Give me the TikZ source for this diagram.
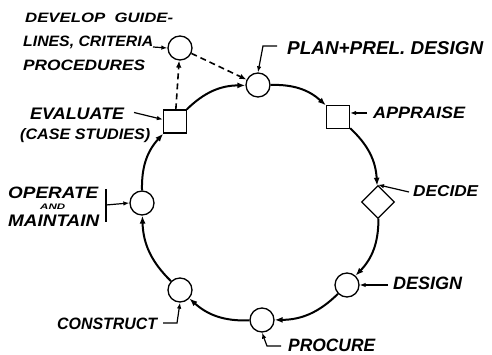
\documentclass[tikz,border=0pt]{standalone}
\usepackage{fontspec}
\usepackage{graphicx}
\newfontfamily\hand{Liberation Sans}
\usetikzlibrary{arrows.meta}
\newcommand\myfit[3]{\resizebox{#1pt}{#2pt}{\hand\bfseries\itshape #3}}
\begin{document}
\begin{tikzpicture}[x=1pt,y=1pt,
  circ/.style={draw,circle,line width=1.3pt,minimum size=24pt,inner sep=0pt},
  sq/.style={draw,rectangle,line width=1.3pt,minimum size=23pt,inner sep=0pt},
  dia/.style={draw,rectangle,line width=1.3pt,minimum size=23pt,inner sep=0pt,rotate=45},
  flow/.style={line width=2pt,-{Latex[length=8pt,width=6pt]},bend left=22},
  dsh/.style={line width=1.6pt,dash pattern=on 6pt off 4pt,-{Latex[length=7pt,width=5.5pt]}},
  lead/.style={line width=1.2pt,-{Latex[length=6pt,width=4.5pt]}},
  lbl/.style={anchor=base west,inner sep=0pt}]
\useasboundingbox (0,0) rectangle (492,355);
% nodes on the cycle
\node[circ] (plan) at (258,270) {};
\node[sq] (appraise) at (338,238) {};
\node[dia] (decide) at (378,153) {};
\node[circ] (design) at (347,70) {};
\node[circ] (procure) at (262,35) {};
\node[circ] (construct) at (180,65) {};
\node[circ] (operate) at (142,152) {};
\node[sq] (evaluate) at (175,233.5) {};
\node[circ] (develop) at (180,307) {};
% cycle connectors
\draw[flow] (plan) to (appraise);
\draw[flow] (appraise) to (decide);
\draw[flow] (decide) to (design);
\draw[flow] (design) to (procure);
\draw[flow] (procure) to (construct);
\draw[flow] (construct) to (operate);
\draw[flow] (operate) to (evaluate);
\draw[flow] (evaluate) to (plan);
% dashed feedback
\draw[dsh] (evaluate) -- (develop);
\draw[dsh] (develop) -- (plan);
% labels
\node[lbl] (t1) at (25,332) {\myfit{148}{9.5}{DEVELOP\ \ GUIDE-}};
\node[lbl] (t2) at (23,308) {\myfit{130}{10.5}{LINES, CRITERIA}};
\node[lbl] (t3) at (23,284.5) {\myfit{122}{10.5}{PROCEDURES}};
\coordinate (devl) at (153,308);
\draw[lead] (devl) -- (develop.west);

\node[lbl] (tplan) at (287,300) {\myfit{196}{13}{PLAN+PREL. DESIGN}};
\coordinate (planl) at (277,309);
\coordinate (planm) at (263,309);
\draw[lead] (planl) -- (planm) -- (plan.north);

\node[lbl] (tapp) at (373,236.5) {\myfit{92}{11.5}{APPRAISE}};
\coordinate (appl) at (367,242);
\draw[lead] (appl) -- (appl -| appraise.east);

\node[lbl] (tdec) at (413,158.5) {\myfit{65}{11}{DECIDE}};
\coordinate (decl) at (409,163);
\draw[lead] (decl) -- (decide.north east);

\node[lbl] (tdes) at (393,65) {\myfit{69}{12.5}{DESIGN}};
\coordinate (desl) at (388,70);
\draw[lead] (desl) -- (design.east);

\node[lbl] (tpro) at (288,3) {\myfit{87}{12.5}{PROCURE}};
\coordinate (prol) at (281,9);
\coordinate (prom) at (267,9);
\draw[lead] (prol) -- (prom) -- (procure.south);

\node[lbl] (tcon) at (57,25.5) {\myfit{100}{11.5}{CONSTRUCT}};
\coordinate (conl) at (163,32);
\coordinate (conm) at (177,32);
\draw[lead] (conl) -- (conm) -- (construct.south);

\node[lbl] (top) at (8,156.5) {\myfit{90}{11.5}{OPERATE}};
\node[lbl] (tand) at (40,145) {\myfit{25}{5.5}{AND}};
\node[lbl] (tmai) at (8,128.5) {\myfit{91}{11.5}{MAINTAIN}};
\coordinate (bart) at (106,166);
\coordinate (barb) at (106,133);
\coordinate (barm) at (106,150);
\draw[line width=1.2pt] (bart) -- (barb);
\draw[lead] (barm) -- (operate.west);

\node[lbl] (tev) at (30,235) {\myfit{94}{11.5}{EVALUATE}};
\node[lbl] (tcase) at (20,215) {\myfit{130}{11}{(CASE STUDIES)}};
\coordinate (evl) at (134,242.5);
\draw[lead] (evl) -- ([yshift=2pt]evaluate.west);
\end{tikzpicture}
\end{document}
